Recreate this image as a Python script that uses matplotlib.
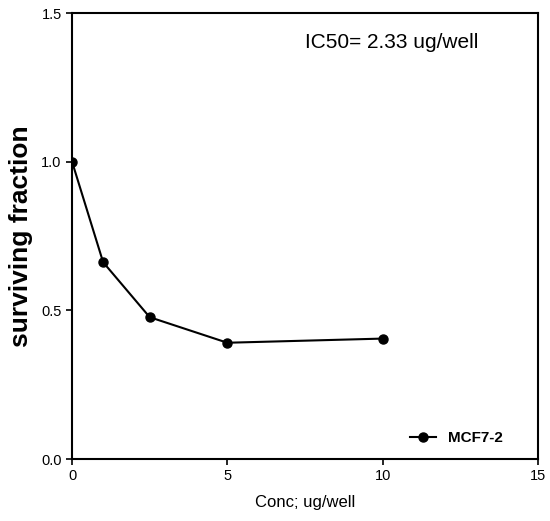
import matplotlib.pyplot as plt

conc = [0, 1, 2.5, 5, 10]
surviving = [1.0, 0.662, 0.477, 0.391, 0.405]
series_name = 'MCF7-2'
ic50_text = 'IC50= 2.33 ug/well'

plt.rcParams['font.family'] = ['Liberation Sans', 'DejaVu Sans']

fig = plt.figure(figsize=(5.5, 5.21), dpi=100)
ax = fig.add_axes([0.131, 0.119, 0.847, 0.856])

ax.plot(conc, surviving, color='black', marker='o', markersize=6.5, linewidth=1.5, label=series_name)

ax.set_xlim(0, 15)
ax.set_ylim(0, 1.5)
ax.set_xticks([0, 5, 10, 15])
ax.set_yticks([0, 0.5, 1.0, 1.5])
ax.set_yticklabels(['0.0', '0.5', '1.0', '1.5'])
ax.tick_params(direction='out', length=4, width=1.2, labelsize=10.5)
for s in ax.spines.values():
    s.set_linewidth(1.5)

ax.set_xlabel('Conc; ug/well', fontsize=12, labelpad=8)
ax.set_ylabel('surviving fraction', fontsize=19, fontweight='bold', labelpad=6)

ax.text(0.873, 0.935, ic50_text, transform=ax.transAxes, fontsize=15, ha='right', va='center')

leg = ax.legend(loc='lower right', frameon=False, handlelength=1.7,
                prop={'weight': 'bold', 'size': 11}, bbox_to_anchor=(0.955, 0.0))

fig.savefig('out.png', dpi=100)
